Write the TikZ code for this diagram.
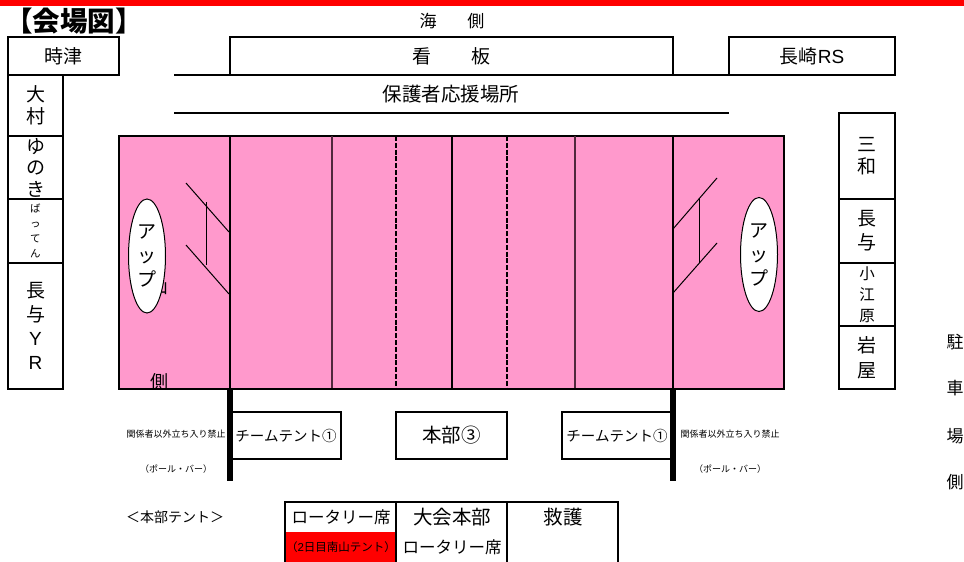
\documentclass[tikz,border=0pt]{standalone}
\usepackage{fontspec}
\setmainfont{Noto Sans CJK JP}
\newfontfamily\lat{Liberation Sans}
\usetikzlibrary{shapes.geometric}
\definecolor{court}{RGB}{255,153,204}
\definecolor{thinline}{RGB}{80,40,60}
\tikzset{
  stk/.style 2 args={inner sep=0pt,outer sep=0pt,align=center,font=\fontsize{#1}{#2}\selectfont},
  lbl/.style={stk={#1}{#1}},
  box/.style={draw=black,line width=2pt,fill=white,inner sep=0pt,outer sep=0pt,anchor=north west},
  rule/.style={line width=2pt},
  thinrule/.style={line width=1.2pt,draw=thinline},
  dashrule/.style={line width=2pt,dash pattern=on 5pt off 1.8pt},
  netline/.style={line width=1pt},
  polebar/.style={line width=6pt},
  upoval/.style={draw=black,line width=1pt,fill=white,ellipse,minimum width=37pt,minimum height=114pt,inner sep=0pt},
}
\begin{document}
\begin{tikzpicture}[x=1pt,y=-1pt]
\useasboundingbox (0,0) rectangle (964,562);
\node[lbl=27.5,font=\fontsize{27.5}{27.5}\selectfont\bfseries] (title) at (74,21) {【会場図】};
\fill[red] (0,0) rectangle (964,6);
\node[lbl=17] (umi) at (452,21) {海\hspace{1.8em}側};
% top row
\node[box,minimum width=111pt,minimum height=38pt] (tokitsu) at (8,37) {};
\node[lbl=19] at (tokitsu.center) {時津};
\node[box,minimum width=443pt,minimum height=38pt] (kanban) at (230,37) {};
\node[lbl=19] at (kanban.center) {看\hspace{2.1em}板};
\node[box,minimum width=166pt,minimum height=38pt] (rs) at (729,37) {};
\node[lbl=19] at (rs.center) {長崎{\lat RS}};
\coordinate (a1) at (174,75);
\coordinate (a2) at (729,75);
\coordinate (a3) at (174,113);
\coordinate (a4) at (729,113);
\draw[rule] (a1) -- (a2);
\draw[rule] (a3) -- (a4);
\node[lbl=19.5] (hogo) at (451,94) {保護者応援場所};
% left column
\node[box,minimum width=55pt,minimum height=61pt] (omura) at (8,75) {};
\node[stk={19}{22}] at (omura.center) {大\\村};
\node[box,minimum width=55pt,minimum height=63pt] (yunoki) at (8,136) {};
\node[stk={19}{21.5}] at (yunoki.center) {ゆ\\の\\き};
\node[box,minimum width=55pt,minimum height=64pt] (batten) at (8,199) {};
\node[stk={10.5}{15}] at (batten.center) {ば\\っ\\て\\ん};
\node[box,minimum width=55pt,minimum height=126pt] (nagayoyr) at (8,263) {};
\node[stk={19}{24}] at (nagayoyr.center) {長\\与\\{\lat Y}\\{\lat R}};
% right column
\node[box,minimum width=56pt,minimum height=86pt] (sanwa) at (839,113) {};
\node[stk={19}{22}] at (sanwa.center) {三\\和};
\node[box,minimum width=56pt,minimum height=64pt] (nagayo) at (839,199) {};
\node[stk={19}{24}] at (nagayo.center) {長\\与};
\node[box,minimum width=56pt,minimum height=63pt] (koebaru) at (839,263) {};
\node[stk={15.5}{21}] at (koebaru.center) {小\\江\\原};
\node[box,minimum width=56pt,minimum height=63pt] (iwaya) at (839,326) {};
\node[stk={19}{25}] at (iwaya.center) {岩\\屋};
% court
\node[draw=black,line width=2pt,fill=court,minimum width=665pt,minimum height=253pt,inner sep=0pt,outer sep=0pt,anchor=north west] (court) at (119,136) {};
\draw[rule] (230,136) -- (230,389);
\draw[rule] (673,136) -- (673,389);
\draw[rule] (452,136) -- (452,388);
\draw[thinrule] (332,136) -- (332,388);
\draw[thinrule] (575,136) -- (575,388);
\draw[dashrule] (396,136) -- (396,388);
\draw[dashrule] (507,136) -- (507,388);
% nets
\draw[netline] (186,183) -- (229,232);
\draw[netline] (186,245) -- (229,294);
\draw[netline] (206,202) -- (206,265);
\draw[netline] (717,178) -- (673,229);
\draw[netline] (717,243) -- (673,293);
\draw[netline] (699,199) -- (699,263);
% side texts
\node[lbl=18] (yama) at (159,287) {山};
\node[lbl=18] (gawa) at (159,382) {側};
% ellipses
\node[upoval] (upl) at (147,256) {};
\node[stk={19}{24}] at (upl.center) {ア\\ッ\\プ};
\node[upoval] (upr) at (759,254.5) {};
\node[stk={19}{24}] at (upr.center) {ア\\ッ\\プ};
% tents
\node[box,minimum width=111pt,minimum height=47pt] (tentl) at (230,412) {};
\node[lbl=14.5] at (286,435.5) {チームテント①};
\node[box,minimum width=111pt,minimum height=47pt] (honbu) at (396,412) {};
\node[lbl=19.5] at (honbu.center) {本部③};
\node[box,minimum width=111pt,minimum height=47pt] (tentr) at (562,412) {};
\node[lbl=14.5] at (617,435.5) {チームテント①};
% pole bars
\draw[polebar] (230,388) -- (230,481);
\draw[polebar] (673,388) -- (673,481);
\node[lbl=9] (kl) at (176,434) {関係者以外立ち入り禁止};
\node[lbl=9] (kr) at (730,434) {関係者以外立ち入り禁止};
\node[lbl=9] (pl) at (176,469) {（ポール・バー）};
\node[lbl=9] (pr) at (730,469) {（ポール・バー）};
% parking
\node[lbl=17] (c1) at (955,342) {駐};
\node[lbl=17] (c2) at (955,388) {車};
\node[lbl=17] (c3) at (955,436) {場};
\node[lbl=17] (c4) at (955,482) {側};
\node[lbl=14] (hl) at (175,517) {＜本部テント＞};
% hq table
\fill[red] (285,532) rectangle (396,562);
\draw[rule] (285,562) -- (285,502) -- (618,502) -- (618,562);
\draw[rule] (396,502) -- (396,562);
\draw[rule] (507,502) -- (507,562);
\node[lbl=16.5] (t1) at (341,517) {ロータリー席};
\node[lbl=19.5] (t2) at (452,517) {大会本部};
\node[lbl=19.5] (t3) at (563,517) {救護};
\node[lbl=11.5] (t4) at (341,547) {（{\lat 2}日目南山テント）};
\node[lbl=16.5] (t5) at (452,547) {ロータリー席};
\end{tikzpicture}
\end{document}
